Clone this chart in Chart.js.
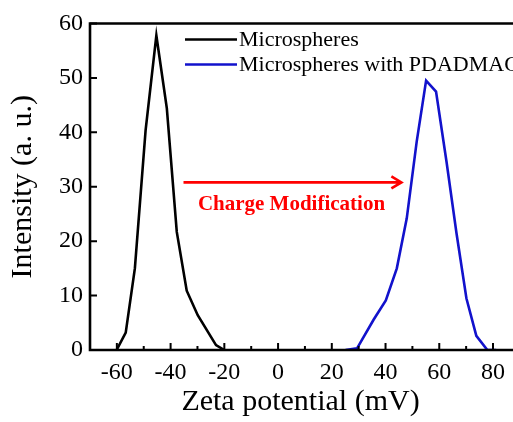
<!DOCTYPE html>
<html>
<head>
<meta charset="utf-8">
<script src="https://cdn.jsdelivr.net/npm/chart.js@4/dist/chart.umd.min.js"></script>
<style>
html,body{margin:0;padding:0;background:#fff;}
#wrap{width:513px;height:422px;}
</style>
</head>
<body>
<div id="wrap"><canvas id="c" width="513" height="422"></canvas></div>
<script>
// ---- data ----
const blackX = [-60.1, -56.7, -53.3, -49.3, -45.3, -41.4, -37.7, -34.0, -29.9, -23.1, -20.0];
const blackY = [0, 3.2, 15.0, 40.4, 57.8, 44.4, 21.7, 10.9, 6.4, 0.9, 0];
const blueX = [25.1, 29.4, 35.6, 40.1, 44.2, 47.9, 51.6, 55.1, 58.8, 62.7, 66.4, 70.1, 73.8, 77.9, 81.2];
const blueY = [0, 0.3, 5.6, 9.1, 15.0, 24.2, 38.3, 49.5, 47.5, 34.6, 21.5, 9.5, 2.6, 0, 0];
const seriesNames = ['Microspheres', 'Microspheres with PDADMAC'];
const xMajorTicks = [-60, -40, -20, 0, 20, 40, 60, 80];
const xMinorTicks = [-50, -30, -10, 10, 30, 50, 70];
const yMajorTicks = [0, 10, 20, 30, 40, 50, 60];
const arrowFrom = [-35.2, 30.8];
const arrowTo = [45.9, 30.8];
const arrowLabel = 'Charge Modification';
const arrowLabelPos = [5.0, 26.8];
const xTitle = 'Zeta potential (mV)';
const yTitle = 'Intensity (a. u.)';

const FONT = "'Liberation Serif', 'Times New Roman', serif";
const toPts = (xs, ys) => xs.map((x, i) => ({x: x, y: ys[i]}));

const framePlugin = {
  id: 'frame',
  afterDatasetsDraw(chart) {
    const ctx = chart.ctx, a = chart.chartArea;
    const xs = chart.scales.x, ys = chart.scales.y;
    ctx.save();
    ctx.strokeStyle = '#000';
    ctx.lineWidth = 2.6;
    ctx.lineCap = 'square';
    ctx.beginPath();
    ctx.moveTo(chart.width + 5, a.top);
    ctx.lineTo(a.left, a.top);
    ctx.lineTo(a.left, a.bottom);
    ctx.lineTo(chart.width + 5, a.bottom);
    ctx.stroke();
    // inward ticks
    ctx.lineWidth = 2;
    ctx.lineCap = 'butt';
    ctx.beginPath();
    xMajorTicks.forEach(v => { const p = xs.getPixelForValue(v); ctx.moveTo(p, a.bottom); ctx.lineTo(p, a.bottom - 7); });
    xMinorTicks.forEach(v => { const p = xs.getPixelForValue(v); ctx.moveTo(p, a.bottom); ctx.lineTo(p, a.bottom - 4); });
    yMajorTicks.forEach(v => { const p = ys.getPixelForValue(v); ctx.moveTo(a.left, p); ctx.lineTo(a.left + 7, p); });
    ctx.stroke();

    // legend
    const items = [{c: '#000', t: seriesNames[0], y: a.top + 16}, {c: '#1212cc', t: seriesNames[1], y: a.top + 41}];
    ctx.font = '22px ' + FONT;
    ctx.textBaseline = 'middle';
    ctx.textAlign = 'left';
    items.forEach(it => {
      ctx.strokeStyle = it.c;
      ctx.lineWidth = 2.5;
      ctx.beginPath();
      ctx.moveTo(185, it.y);
      ctx.lineTo(237, it.y);
      ctx.stroke();
      ctx.fillStyle = '#000';
      ctx.fillText(it.t, 239, it.y + 1);
    });

    // arrow annotation
    const x0 = xs.getPixelForValue(arrowFrom[0]), y0 = ys.getPixelForValue(arrowFrom[1]);
    const x1 = xs.getPixelForValue(arrowTo[0]), y1 = ys.getPixelForValue(arrowTo[1]);
    ctx.strokeStyle = '#ff0000';
    ctx.lineWidth = 2.6;
    ctx.beginPath();
    ctx.moveTo(x0, y0);
    ctx.lineTo(x1, y1);
    ctx.moveTo(x1 - 10, y1 - 6);
    ctx.lineTo(x1, y1);
    ctx.lineTo(x1 - 10, y1 + 6);
    ctx.stroke();
    ctx.fillStyle = '#ff0000';
    ctx.font = 'bold 21px ' + FONT;
    ctx.textAlign = 'center';
    ctx.fillText(arrowLabel, xs.getPixelForValue(arrowLabelPos[0]), ys.getPixelForValue(arrowLabelPos[1]));
    ctx.restore();
  }
};

new Chart(document.getElementById('c'), {
  type: 'line',
  data: {
    datasets: [
      {label: seriesNames[0], data: toPts(blackX, blackY), borderColor: '#000', borderWidth: 2.6, pointRadius: 0, tension: 0, fill: false},
      {label: seriesNames[1], data: toPts(blueX, blueY), borderColor: '#1212cc', borderWidth: 2.6, pointRadius: 0, tension: 0, fill: false}
    ]
  },
  options: {
    responsive: false,
    animation: false,
    events: [],
    layout: {padding: {top: 23.5, right: 0, left: 0, bottom: 0}},
    plugins: {legend: {display: false}, tooltip: {enabled: false}},
    scales: {
      x: {
        type: 'linear', min: -70, max: 86.7,
        afterBuildTicks: s => { s.ticks = xMajorTicks.map(v => ({value: v})); },
        afterFit: s => { s.height = 72; },
        grid: {display: false, drawTicks: false},
        border: {display: false},
        ticks: {color: '#000', font: {family: FONT, size: 24}, padding: 8, maxRotation: 0, autoSkip: false},
        title: {display: true, text: xTitle, color: '#000', font: {family: FONT, size: 30}, padding: {top: 0, bottom: 2}}
      },
      y: {
        type: 'linear', min: 0, max: 60,
        afterBuildTicks: s => { s.ticks = yMajorTicks.map(v => ({value: v})); },
        afterFit: s => { s.width = 90; },
        grid: {display: false, drawTicks: false},
        border: {display: false},
        ticks: {color: '#000', font: {family: FONT, size: 24}, padding: 7},
        title: {display: true, text: yTitle, color: '#000', font: {family: FONT, size: 30}, padding: {top: 5, bottom: 0}}
      }
    }
  },
  plugins: [framePlugin]
});
</script>
</body>
</html>
